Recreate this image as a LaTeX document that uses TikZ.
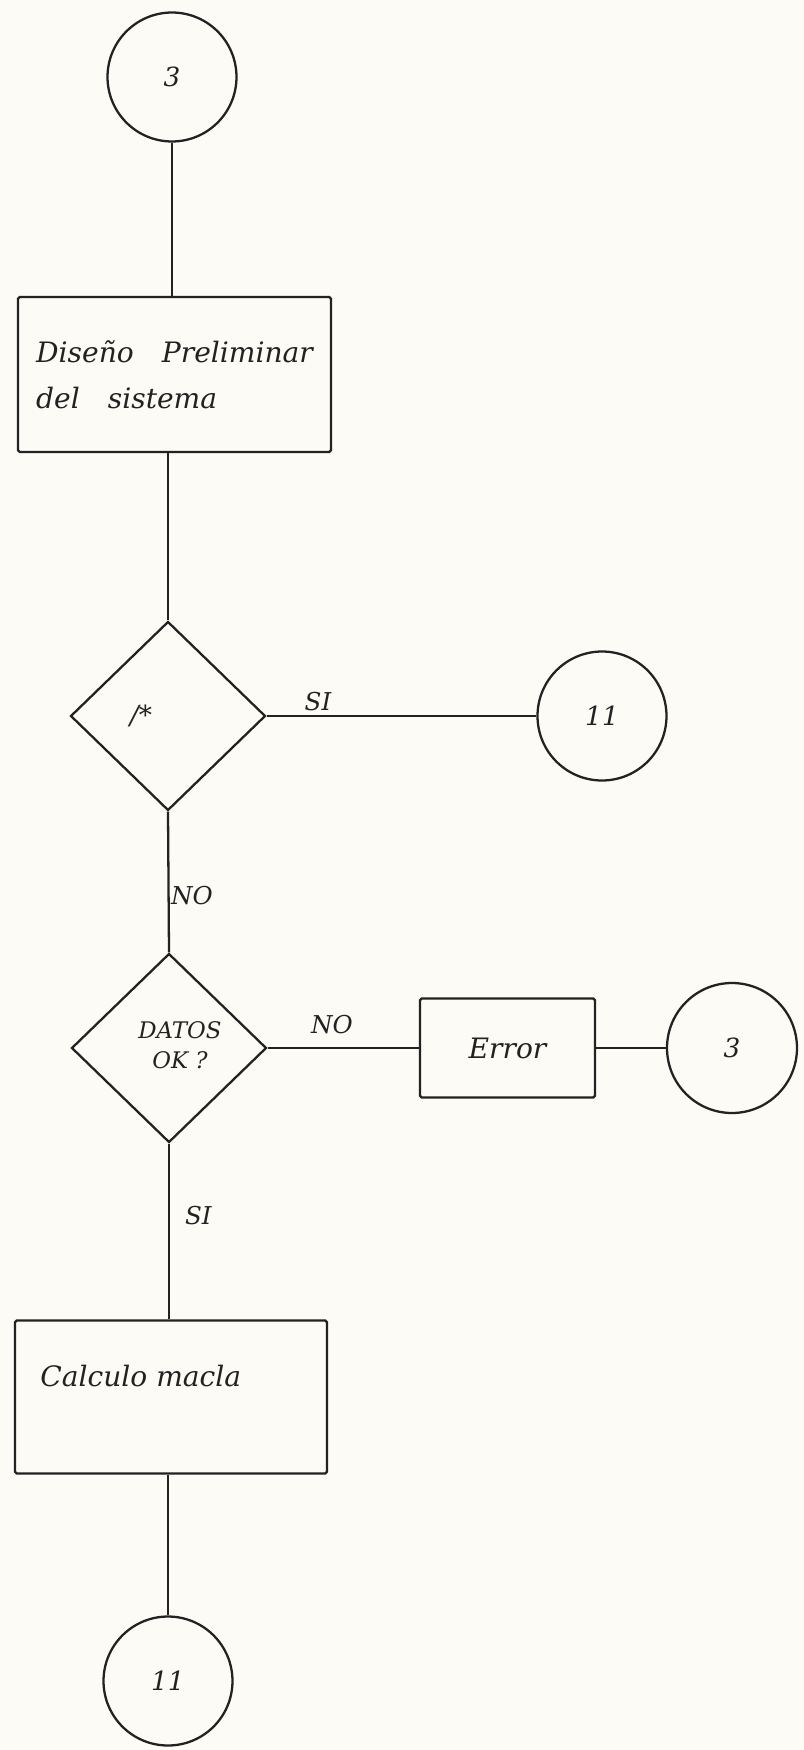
\documentclass[tikz,border=0pt]{standalone}
\usepackage{fontspec}
\setmainfont{DejaVu Serif}
\usetikzlibrary{shapes.geometric}
\definecolor{ink}{HTML}{222222}
\definecolor{paper}{HTML}{FCFBF6}

\begin{document}
\begin{tikzpicture}[x=0.02cm, y=-0.02cm,
  flow/.style={draw=ink, line width=1.3pt},
  conn/.style={circle, draw=ink, line width=1.3pt, inner sep=0pt,
    minimum size=2.58cm, text=ink, font=\fontsize{15}{18}\selectfont\itshape},
  proc/.style={rectangle, draw=ink, line width=1.3pt, rounded corners=1pt,
    inner sep=0pt, text=ink, font=\fontsize{16}{26}\selectfont\itshape},
  decision/.style={diamond, draw=ink, line width=1.3pt, inner sep=0pt,
    minimum width=3.9cm, minimum height=3.78cm},
  dtext/.style={inner sep=0pt, align=center, text=ink,
    font=\fontsize{13}{17}\selectfont\itshape},
  lbl/.style={inner sep=1pt, text=ink, font=\fontsize{14}{16}\selectfont\itshape}]

  % === page (scanned sheet) ===
  \fill[paper] (0,0) rectangle (804,1750);
  \useasboundingbox (0,0) rectangle (804,1750);

  % --- main column ---
  \node[conn] (c3top) at (172,77) {3};
  \node[proc, minimum width=6.26cm, minimum height=3.1cm, align=left]
    (disenio) at (174.5,374.5) {Diseño\quad Preliminar\\del\quad sistema};
  \node[decision] (slash) at (168,716) {};
  \node[dtext, font=\fontsize{15}{18}\selectfont\itshape]
    (slashtxt) at ([xshift=-0.54cm]slash.center) {/*};
  \node[decision] (datos) at (169,1048) {};
  \node[dtext] (datostxt) at ([xshift=0.22cm,yshift=0.05cm]datos.center) {DATOS\\OK ?};
  \node[proc, minimum width=6.24cm, minimum height=3.06cm] (calculo) at (171,1397) {};
  \node[inner sep=0pt, anchor=west, text=ink, font=\fontsize{16}{20}\selectfont\itshape]
    (calctxt) at (40,1376) {Calculo macla};
  \node[conn] (c11b) at (168,1681) {11};

  % --- side branches ---
  \node[conn] (c11a) at (602,716) {11};
  \node[proc, minimum width=3.5cm, minimum height=1.98cm] (error) at (507.5,1048) {Error};
  \node[conn, minimum size=2.6cm] (c3r) at (732,1048) {3};

  % connectors
  \draw[flow] (c3top.south) -- (c3top.south |- disenio.north);
  \draw[flow] (slash.north |- disenio.south) -- (slash.north);
  \draw[flow] (slash.east) -- (c11a.west);
  \draw[flow] (slash.south) -- (datos.north);
  \draw[flow] (datos.east) -- (error.west);
  \draw[flow] (error.east) -- (c3r.west);
  \draw[flow] (datos.south) -- (datos.south |- calculo.north);
  \draw[flow] (calculo.south -| c11b.north) -- (c11b.north);

  % branch labels
  \node[lbl, anchor=south] (si1) at (318,713) {SI};
  \node[lbl, anchor=west] (no1) at (169,896) {NO};
  \node[lbl, anchor=south] (no2) at (332,1036) {NO};
  \node[lbl, anchor=west] (si2) at (183,1216) {SI};

\end{tikzpicture}
\end{document}
